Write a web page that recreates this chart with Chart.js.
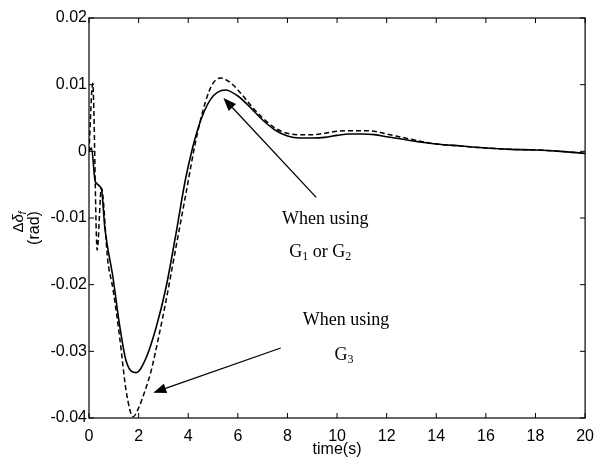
<!DOCTYPE html>
<html>
<head>
<meta charset="utf-8">
<script src="https://cdn.jsdelivr.net/npm/chart.js@4"></script>
<style>
  html, body { margin: 0; padding: 0; background: #fff; }
  canvas { display: block; }
</style>
</head>
<body>
<canvas id="deltaChart" width="603" height="464"></canvas>
<script>
// response with G1 / G2 (solid)
const solidTime = [0, 0.1, 0.25, 0.5, 0.64, 0.97, 1.23, 1.5, 1.9, 2.3, 2.7, 3.1, 3.5, 3.9, 4.4, 4.9, 5.5, 6.0, 6.5, 7.0, 7.5, 8.0, 8.5, 9.0, 9.5, 10, 10.5, 11, 11.5, 12, 13, 14, 15, 16, 17, 18, 19, 20];
const solidDelta = [0, 0.0005, -0.0045, -0.0057, -0.0115, -0.019, -0.026, -0.0315, -0.0332, -0.031, -0.0265, -0.0205, -0.0125, -0.004, 0.0035, 0.0078, 0.0092, 0.0083, 0.0066, 0.0047, 0.0032, 0.0023, 0.002, 0.002, 0.0021, 0.0024, 0.0026, 0.0026, 0.0025, 0.0022, 0.0016, 0.0011, 0.0008, 0.0005, 0.0003, 0.0002, 0, -0.0003];

// response with G3 (dashed)
const dashTime = [0, 0.15, 0.33, 0.5, 0.76, 0.96, 1.24, 1.5, 1.78, 2.0, 2.25, 2.5, 2.8, 3.1, 3.5, 3.9, 4.3, 4.7, 5.0, 5.3, 5.7, 6.1, 6.5, 7.0, 7.5, 8.0, 8.5, 9.0, 9.5, 10, 10.5, 11, 11.5, 12, 12.5, 13, 13.5, 14, 15, 16, 17, 18, 19, 20];
const dashDelta = [0, 0.0102, -0.0148, -0.0055, -0.0165, -0.0205, -0.028, -0.036, -0.0398, -0.0385, -0.036, -0.033, -0.028, -0.0225, -0.0145, -0.0065, 0.0015, 0.0075, 0.0102, 0.011, 0.0103, 0.0088, 0.007, 0.005, 0.0035, 0.0027, 0.0025, 0.0025, 0.0027, 0.003, 0.0031, 0.0031, 0.003, 0.0026, 0.0022, 0.0018, 0.0014, 0.0011, 0.0008, 0.0005, 0.0003, 0.0002, 0, -0.0003];

const xTicks = [0, 2, 4, 6, 8, 10, 12, 14, 16, 18, 20];
const yTicks = [-0.04, -0.03, -0.02, -0.01, 0, 0.01, 0.02];

function toPoints(ts, vs) {
  return ts.map((t, i) => ({ x: t, y: vs[i] }));
}

// arrows and notes, in data units
const arrows = [
  { from: [9.16, -0.0069], to: [5.42, 0.008] },
  { from: [7.73, -0.0295], to: [2.59, -0.0362] },
];
const notes = [
  { x: 9.52, y: -0.0109, parts: [["When using", false]] },
  { x: 9.32, y: -0.01585, parts: [["G", false], ["1", true], [" or G", false], ["2", true]] },
  { x: 10.36, y: -0.02605, parts: [["When using", false]] },
  { x: 10.28, y: -0.0313, parts: [["G", false], ["3", true]] },
];

const serif = "'Liberation Serif', 'Times New Roman', serif";
const sans = "'Liberation Sans', Arial, sans-serif";

// box, inward ticks, y label, arrows and notes
const frame = {
  id: "frame",
  afterDatasetsDraw(chart) {
    const ctx = chart.ctx;
    const area = chart.chartArea;
    const xs = chart.scales.x;
    const ys = chart.scales.y;

    ctx.save();
    ctx.strokeStyle = "#000";
    ctx.lineWidth = 1.2;
    ctx.strokeRect(area.left, area.top, area.right - area.left, area.bottom - area.top);

    ctx.lineWidth = 1;
    ctx.beginPath();
    xTicks.forEach((t) => {
      const px = xs.getPixelForValue(t);
      ctx.moveTo(px, area.bottom);
      ctx.lineTo(px, area.bottom - 5);
      ctx.moveTo(px, area.top);
      ctx.lineTo(px, area.top + 5);
    });
    yTicks.forEach((v) => {
      const py = ys.getPixelForValue(v);
      ctx.moveTo(area.left, py);
      ctx.lineTo(area.left + 5, py);
      ctx.moveTo(area.right, py);
      ctx.lineTo(area.right - 5, py);
    });
    ctx.stroke();

    // arrows
    ctx.fillStyle = "#000";
    ctx.lineWidth = 1.3;
    arrows.forEach((a) => {
      const x1 = xs.getPixelForValue(a.from[0]);
      const y1 = ys.getPixelForValue(a.from[1]);
      const x2 = xs.getPixelForValue(a.to[0]);
      const y2 = ys.getPixelForValue(a.to[1]);
      const ang = Math.atan2(y2 - y1, x2 - x1);
      const len = 13;
      const half = 5;
      const bx = x2 - len * Math.cos(ang);
      const by = y2 - len * Math.sin(ang);
      ctx.beginPath();
      ctx.moveTo(x1, y1);
      ctx.lineTo(bx, by);
      ctx.stroke();
      ctx.beginPath();
      ctx.moveTo(x2, y2);
      ctx.lineTo(bx + half * Math.sin(ang), by - half * Math.cos(ang));
      ctx.lineTo(bx - half * Math.sin(ang), by + half * Math.cos(ang));
      ctx.closePath();
      ctx.fill();
    });

    // notes with subscripts
    ctx.textBaseline = "alphabetic";
    ctx.textAlign = "left";
    notes.forEach((n) => {
      let total = 0;
      n.parts.forEach(([s, sub]) => {
        ctx.font = (sub ? 12 : 18) + "px " + serif;
        total += ctx.measureText(s).width;
      });
      let px = xs.getPixelForValue(n.x) - total / 2;
      const py = ys.getPixelForValue(n.y);
      n.parts.forEach(([s, sub]) => {
        ctx.font = (sub ? 12 : 18) + "px " + serif;
        ctx.fillText(s, px, py + (sub ? 3 : 0));
        px += ctx.measureText(s).width;
      });
    });

    // y axis label, two rotated lines
    ctx.translate(19, 222);
    ctx.rotate(-Math.PI / 2);
    ctx.textBaseline = "middle";
    ctx.font = "15px " + sans;
    const w1 = ctx.measureText("Δ").width;
    ctx.font = "italic 15px " + sans;
    const w2 = ctx.measureText("δ").width;
    ctx.font = "italic 10px " + sans;
    const w3 = ctx.measureText("f").width;
    let lx = -(w1 + w2 + w3) / 2;
    ctx.font = "15px " + sans;
    ctx.fillText("Δ", lx, 0);
    lx += w1;
    ctx.font = "italic 15px " + sans;
    ctx.fillText("δ", lx, 0);
    lx += w2;
    ctx.font = "italic 10px " + sans;
    ctx.fillText("f", lx, 4);
    ctx.font = "16px " + sans;
    ctx.textAlign = "center";
    ctx.fillText("(rad)", -6, 16);
    ctx.restore();
  },
};

const data = {
  datasets: [
    {
      label: "G1 or G2",
      data: toPoints(solidTime, solidDelta),
      borderColor: "#000",
      borderWidth: 1.6,
      pointRadius: 0,
      cubicInterpolationMode: "monotone",
    },
    {
      label: "G3",
      data: toPoints(dashTime, dashDelta),
      borderColor: "#000",
      borderWidth: 1.5,
      borderDash: [5, 3],
      pointRadius: 0,
      cubicInterpolationMode: "monotone",
    },
  ],
};

const config = {
  type: "line",
  data: data,
  plugins: [frame],
  options: {
    responsive: false,
    animation: false,
    devicePixelRatio: 1,
    layout: { padding: { top: 18, right: 12, left: 0, bottom: 0 } },
    scales: {
      x: {
        type: "linear",
        min: 0,
        max: 20,
        afterFit: (s) => { s.height = 46; },
        afterBuildTicks: (s) => { s.ticks = xTicks.map((v) => ({ value: v })); },
        ticks: {
          color: "#000",
          padding: 9,
          maxRotation: 0,
          font: { family: sans, size: 16 },
        },
        grid: { display: false, drawTicks: false },
        border: { display: false },
        title: {
          display: true,
          text: "time(s)",
          color: "#000",
          font: { family: sans, size: 16 },
          padding: { top: 0, bottom: 5 },
        },
      },
      y: {
        min: -0.04,
        max: 0.02,
        afterFit: (s) => { s.width = 89; },
        afterBuildTicks: (s) => { s.ticks = yTicks.map((v) => ({ value: v })); },
        ticks: {
          color: "#000",
          padding: 2,
          font: { family: sans, size: 16 },
          callback: (v) => (Math.abs(v) < 1e-9 ? "0" : v.toFixed(2)),
        },
        grid: { display: false, drawTicks: false },
        border: { display: false },
      },
    },
    plugins: {
      legend: { display: false },
      tooltip: { enabled: false },
    },
  },
};

const deltaChart = new Chart(document.getElementById("deltaChart"), config);
</script>
</body>
</html>
